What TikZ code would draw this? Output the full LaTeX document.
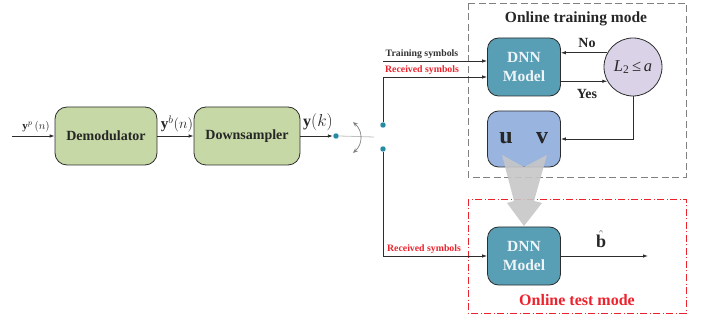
\documentclass[tikz,border=0pt]{standalone}
\usepackage{fontspec}
\setmainfont{Liberation Serif}
\usetikzlibrary{arrows.meta,calc}
\definecolor{boxgreen}{RGB}{198,216,165}
\definecolor{dnnteal}{RGB}{88,158,181}
\definecolor{uvblue}{RGB}{152,180,223}
\definecolor{circlav}{RGB}{218,211,231}
\definecolor{dotteal}{RGB}{38,138,160}
\definecolor{lred}{RGB}{236,34,44}
\definecolor{linegray}{RGB}{45,45,45}
\newcommand{\fsz}[1]{\fontsize{#1}{#1}\selectfont}
\begin{document}
\begin{tikzpicture}[x=1pt,y=-1pt,
  arr/.style={draw=linegray, line width=0.8pt, -{Latex[length=5pt,width=3.5pt]}},
  plain/.style={draw=linegray, line width=0.8pt},
  blockbox/.style={draw=linegray, line width=0.8pt, rounded corners=12pt, fill=boxgreen,
     minimum height=58pt, inner sep=0pt, font=\fsz{14}\bfseries, text=black!85},
  dnnbox/.style={draw=linegray, line width=0.8pt, rounded corners=11pt, fill=dnnteal,
     minimum width=73pt, minimum height=58pt, inner sep=0pt, align=center,
     font=\fontsize{15.5}{19}\selectfont\bfseries, text=white!90!dnnteal},
  uvbox/.style={draw=linegray, line width=0.8pt, rounded corners=11pt, fill=uvblue,
     minimum width=73pt, minimum height=56pt, inner sep=0pt},
  testcirc/.style={draw=linegray, line width=0.8pt, circle, fill=circlav, minimum size=58pt, inner sep=0pt},
  swdot/.style={circle, fill=dotteal, draw=white, line width=0.3pt, minimum size=6pt, inner sep=0pt},
  lab/.style={inner sep=0pt, text=black!85},
  redlab/.style={inner sep=0pt, text=lred, font=\fsz{9.8}\bfseries},
  blklab/.style={inner sep=0pt, text=black!80, font=\fsz{9.8}\bfseries}
]
\useasboundingbox (0,0) rectangle (701,320);

% frames
\draw[gray, line width=0.8pt, dash pattern=on 7pt off 3.5pt] (468,3) rectangle (686,177);
\node[lab, font=\fsz{15.5}\bfseries] (ttitle) at (576,19) {Online training mode};
\draw[lred, line width=0.8pt, dash pattern=on 7pt off 2.5pt on 1pt off 2.5pt] (468,199) rectangle (686,313);
\node[lab, text=lred, font=\fsz{16}\bfseries] (etitle) at (577,300) {Online test mode};

% blocks
\node[blockbox, minimum width=102pt] (demod) at (106,136) {Demodulator};
\node[blockbox, minimum width=106pt] (down) at (247,136) {Downsampler};
\node[dnnbox] (dnn1) at (524,67) {DNN\\Model};
\node[testcirc] (circ) at (633,67) {};
\node[lab, font=\fsz{16.5}] at (circ.center) {\textit{L}\textsubscript{2}\,≤\,\textit{a}};
\node[uvbox] (uv) at (524,139) {};
\node[lab, font=\fsz{24}\bfseries] (ulab) at (506,138) {u};
\node[lab, font=\fsz{24}\bfseries] (vlab) at (542,138) {v};
\node[dnnbox] (dnn2) at (524,256) {DNN\\Model};

% switch dots
\node[swdot] (d0) at (336,136) {};
\node[swdot] (d1) at (383,125) {};
\node[swdot] (d2) at (383,149) {};

% coordinates
\coordinate (in) at (12,136);
\coordinate (swend) at (374,137);
\coordinate (ts) at (383,61);
\coordinate (out) at (648,256);
\coordinate (ca) at (353,122);
\coordinate (cb) at (353,153);

% main chain
\draw[arr] (in) -- (demod.west);
\node[lab, font=\fsz{11}] (lyp) at (36,127) {$\mathbf{y}^{p}\,(n)$};
\draw[arr] (demod.east) -- (down.west);
\node[lab, font=\fsz{15}] (lyb) at (177,124) {$\mathbf{y}^{b}\!\left(n\right)$};
\draw[arr] (down.east) -- (d0.west);
\node[lab, font=\fsz{16}] (lyk) at (318,122) {$\mathbf{y}\!\left(k\right)$};
\draw[draw=gray!50, line width=0.8pt] (d0.east) -- (swend);
\draw[draw=gray, line width=0.7pt, {Stealth[length=5pt,width=4pt]}-{Stealth[length=5pt,width=4pt]}]
  (ca) .. controls (363,131) and (363,144) .. (cb);

% training inputs
\draw[arr] (ts) -- (ts -| dnn1.west);
\node[blklab] (ltr) at (422,54) {Training symbols};
\draw[arr] (d1.north) |- ($(dnn1.west)+(0,10)$);
\node[redlab] (lrx1) at (422,70) {Received symbols};

% loop
\draw[arr] (circ.151) -- (circ.151 -| dnn1.east);
\node[lab, font=\fsz{14}\bfseries] (lno) at (587,43) {No};
\draw[arr] (circ.209 -| dnn1.east) -- (circ.209);
\node[lab, font=\fsz{14}\bfseries] (lyes) at (587,94) {Yes};
\draw[arr] (circ.south) |- (uv.east);

% test path
\draw[arr] (d2.south) |- (dnn2.west);
\node[redlab] (lrx2) at (424,249) {Received symbols};
\draw[arr] (dnn2.east) -- (out);
\node[lab, font=\fsz{18}] (lbhat) at (601,239) {$\hat{\mathbf{b}}$};

% big transfer arrow
\fill[gray!45, opacity=0.9] (502,155) -- (524,167) -- (547,155) -- (534,201) -- (542,203)
  -- (524,226) -- (507,203) -- (514,201) -- cycle;
\end{tikzpicture}
\end{document}
